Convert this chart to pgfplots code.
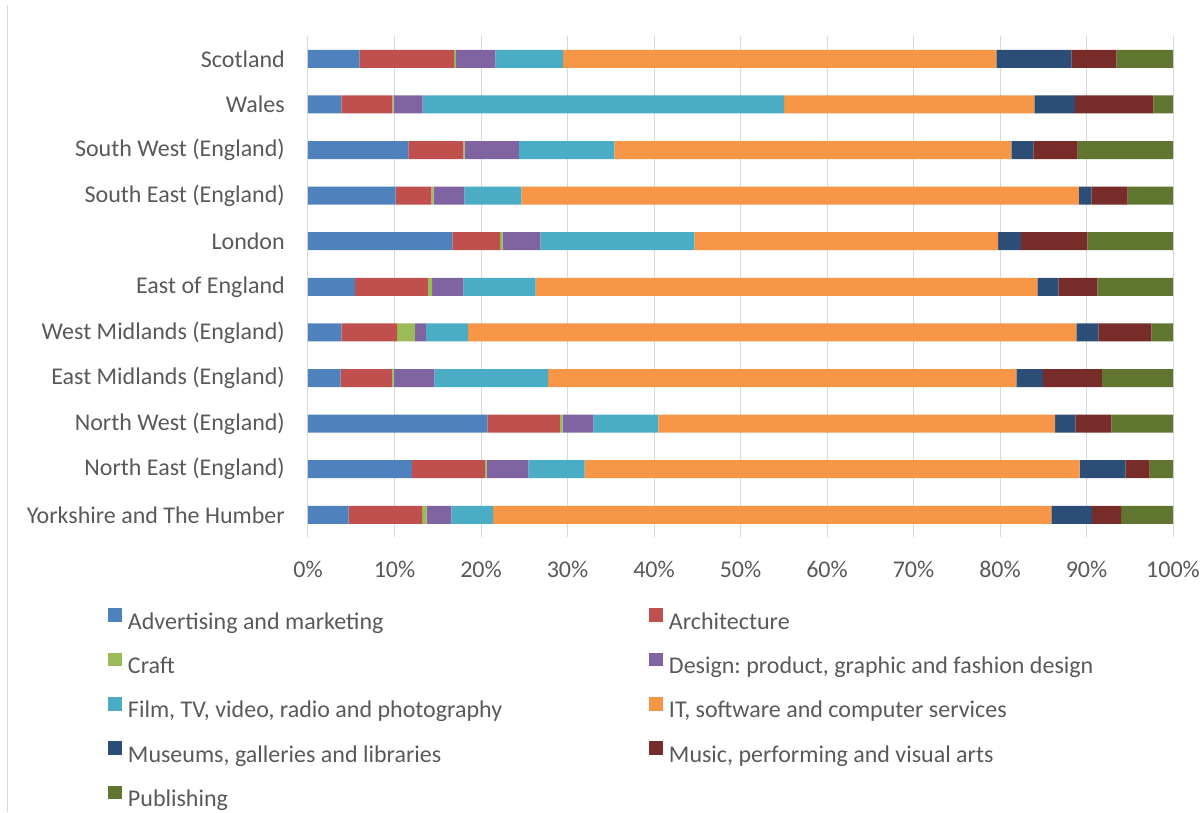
\documentclass[border=0pt]{standalone}
\usepackage{fontspec}
\setmainfont{Carlito}
\usepackage{pgfplots}
\usepackage{pgfplotstable}
\pgfplotsset{compat=1.18}
\definecolor{cAdv}{HTML}{4F81BD}
\definecolor{cArch}{HTML}{C0504D}
\definecolor{cCraft}{HTML}{9BBB59}
\definecolor{cDes}{HTML}{8064A2}
\definecolor{cFilm}{HTML}{4BACC6}
\definecolor{cIT}{HTML}{F79646}
\definecolor{cMus}{HTML}{2C4D75}
\definecolor{cMusic}{HTML}{772C2A}
\definecolor{cPub}{HTML}{5F7530}
\definecolor{txt}{HTML}{595959}
\definecolor{gridc}{HTML}{D9D9D9}
\newcommand\lf{\fontsize{24}{28.8}\selectfont}
\newcommand\ls{\rule[-6pt]{0pt}{24pt}}
\newcommand\cw[1]{\makebox[514.7pt][l]{\ls #1}}

\pgfplotstableread{
y adv arch craft design film it mus music pub
0 4.70 8.48 0.54 2.85 4.82 64.54 4.71 3.35 6.01
1 12.02 8.44 0.20 4.81 6.52 57.22 5.32 2.78 2.69
2 20.73 8.40 0.31 3.54 7.52 45.86 2.35 4.16 7.13
3 3.78 5.93 0.19 4.70 13.15 54.14 3.08 6.82 8.21
4 3.85 6.44 2.08 1.27 4.86 70.32 2.55 6.12 2.51
5 5.43 8.44 0.47 3.61 8.37 57.99 2.43 4.51 8.75
6 16.68 5.52 0.30 4.36 17.80 35.11 2.66 7.66 9.91
7 10.14 4.11 0.28 3.54 6.59 64.47 1.42 4.21 5.24
8 11.60 6.35 0.15 6.29 11.02 45.90 2.54 5.13 11.02
9 3.85 5.90 0.15 3.36 41.77 28.94 4.70 9.05 2.28
10 5.93 10.95 0.22 4.55 7.83 50.09 8.68 5.20 6.55
}\datatable

\pgfplotsset{seg/.style={fill=#1, draw=none,
  legend image code/.code={\fill[##1,draw=none] (0pt,0pt) rectangle (13.7pt,13.7pt);}}}

\begin{document}
\frenchspacing
\lf
\begin{tikzpicture}
\useasboundingbox (0,0) rectangle (1203pt,812pt);
\draw[color=gridc, line width=0.75pt] (7.3pt,0pt) -- (7.3pt,807pt);
\begin{axis}[
  at={(308pt,275.3pt)}, anchor=south west,
  scale only axis, width=865pt, height=500.7pt,
  xbar stacked, bar width=18pt,
  xmin=0, xmax=100, ymin=-0.48, ymax=10.5,
  xtick={0,10,...,100},
  xticklabels={0\%,10\%,20\%,30\%,40\%,50\%,60\%,70\%,80\%,90\%,100\%},
  ytick={0,...,10},
  yticklabels={Yorkshire and The Humber,North East (England),North West (England),East Midlands (England),West Midlands (England),East of England,London,South East (England),South West (England),Wales,Scotland},
  xmajorgrids, grid style={color=gridc, line width=1pt},
  axis line style={draw=none}, major tick length=0pt, tick style={draw=none},
  xticklabel style={anchor=base, inner sep=0pt, yshift=-41pt},
  yticklabel style={anchor=east, inner sep=0pt, xshift=-23pt},
  tick label style={font=\lf, text=txt},
  legend columns=2, legend cell align=left,
  legend style={at={(-0.23121,-0.1430)}, anchor=north west, draw=none, fill=none,
    inner sep=0pt, outer sep=0pt, font=\lf, text=txt, row sep=19.8pt, column sep=0pt,
    nodes={inner xsep=6.3pt, inner ysep=0pt}},
]
\addplot[seg=cAdv] table[x=adv,y=y]{\datatable};
\addlegendentry{\cw{Advertising and marketing}}
\addplot[seg=cArch] table[x=arch,y=y]{\datatable};
\addlegendentry{\ls Architecture}
\addplot[seg=cCraft] table[x=craft,y=y]{\datatable};
\addlegendentry{\cw{Craft}}
\addplot[seg=cDes] table[x=design,y=y]{\datatable};
\addlegendentry{\ls Design: product, graphic and fashion design}
\addplot[seg=cFilm] table[x=film,y=y]{\datatable};
\addlegendentry{\cw{Film, TV, video, radio and photography}}
\addplot[seg=cIT] table[x=it,y=y]{\datatable};
\addlegendentry{\ls IT, software and computer services}
\addplot[seg=cMus] table[x=mus,y=y]{\datatable};
\addlegendentry{\cw{Museums, galleries and libraries}}
\addplot[seg=cMusic] table[x=music,y=y]{\datatable};
\addlegendentry{\ls Music, performing and visual arts}
\addplot[seg=cPub] table[x=pub,y=y]{\datatable};
\addlegendentry{\cw{Publishing}}
\end{axis}
\end{tikzpicture}
\end{document}
